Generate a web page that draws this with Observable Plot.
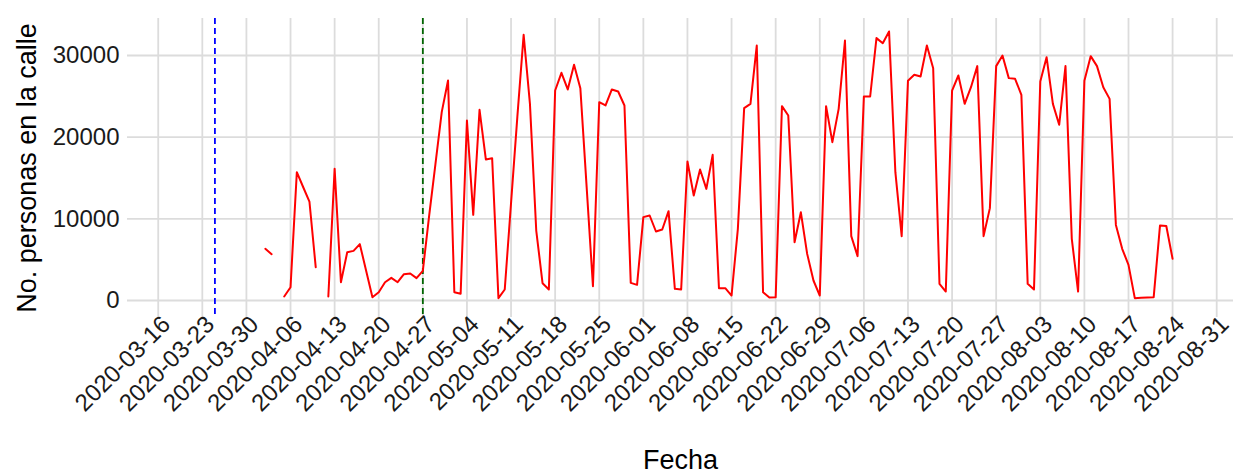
<!DOCTYPE html>
<html>
<head>
<meta charset="utf-8">
<script src="https://cdn.jsdelivr.net/npm/d3@7"></script>
<script src="https://cdn.jsdelivr.net/npm/@observablehq/plot@0.6"></script>
<style>
  html, body { margin: 0; padding: 0; background: #ffffff; }
  #chart { width: 1238px; height: 474px; }
</style>
</head>
<body>
<div id="chart"></div>
<script>
// ---- data ----
const dates = [
  "2020-04-02","2020-04-03","2020-04-04","2020-04-05","2020-04-06","2020-04-07","2020-04-08","2020-04-09","2020-04-10","2020-04-11","2020-04-12",
  "2020-04-13","2020-04-14","2020-04-15","2020-04-16","2020-04-17","2020-04-18","2020-04-19",
  "2020-04-20","2020-04-21","2020-04-22","2020-04-23","2020-04-24","2020-04-25","2020-04-26",
  "2020-04-27","2020-04-28","2020-04-29","2020-04-30","2020-05-01","2020-05-02","2020-05-03",
  "2020-05-04","2020-05-05","2020-05-06","2020-05-07","2020-05-08","2020-05-09","2020-05-10",
  "2020-05-11","2020-05-12","2020-05-13","2020-05-14","2020-05-15","2020-05-16","2020-05-17",
  "2020-05-18","2020-05-19","2020-05-20","2020-05-21","2020-05-22","2020-05-23","2020-05-24",
  "2020-05-25","2020-05-26","2020-05-27","2020-05-28","2020-05-29","2020-05-30","2020-05-31",
  "2020-06-01","2020-06-02","2020-06-03","2020-06-04","2020-06-05","2020-06-06","2020-06-07",
  "2020-06-08","2020-06-09","2020-06-10","2020-06-11","2020-06-12","2020-06-13","2020-06-14",
  "2020-06-15","2020-06-16","2020-06-17","2020-06-18","2020-06-19","2020-06-20","2020-06-21",
  "2020-06-22","2020-06-23","2020-06-24","2020-06-25","2020-06-26","2020-06-27","2020-06-28",
  "2020-06-29","2020-06-30","2020-07-01","2020-07-02","2020-07-03","2020-07-04","2020-07-05",
  "2020-07-06","2020-07-07","2020-07-08","2020-07-09","2020-07-10","2020-07-11","2020-07-12",
  "2020-07-13","2020-07-14","2020-07-15","2020-07-16","2020-07-17","2020-07-18","2020-07-19",
  "2020-07-20","2020-07-21","2020-07-22","2020-07-23","2020-07-24","2020-07-25","2020-07-26",
  "2020-07-27","2020-07-28","2020-07-29","2020-07-30","2020-07-31","2020-08-01","2020-08-02",
  "2020-08-03","2020-08-04","2020-08-05","2020-08-06","2020-08-07","2020-08-08","2020-08-09",
  "2020-08-10","2020-08-11","2020-08-12","2020-08-13","2020-08-14","2020-08-15","2020-08-16",
  "2020-08-17","2020-08-18","2020-08-19","2020-08-20","2020-08-21","2020-08-22","2020-08-23",
  "2020-08-24"
];
const personas = [
  6330, 5670, null, 490, 1630, 15710, 13900, 12120, 4080, null, 490,
  16120, 2240, 5910, 6080, 6900, 3650, 410,
  1020, 2240, 2780, 2240, 3230, 3300, 2740,
  3630, 10370, 16700, 23060, 26940, 1020, 820,
  22040, 10490, 23350, 17270, 17420, 290, 1350,
  11920, 22490, 32530, 24080, 8570, 2120, 1350,
  25710, 27880, 25840, 28860, 26000, 13880, 1760,
  24290, 23880, 25840, 25590, 23880, 2160, 1920,
  10210, 10410, 8450, 8690, 10940, 1430, 1350,
  17020, 12860, 16040, 13670, 17840, 1510, 1510,
  610, 8780, 23550, 24080, 31220, 1020, 370,
  410, 23800, 22650, 7140, 10800, 5710, 2450,
  610, 23800, 19390, 23470, 31840, 7880, 5430,
  24980, 24980, 32130, 31510, 32940, 15710, 7880,
  26900, 27640, 27430, 31220, 28450, 2040, 1100,
  25710, 27550, 24080, 26120, 28700, 7880, 11310,
  28700, 30000, 27230, 27150, 25180, 2040, 1350,
  26820, 29790, 24080, 21510, 28700, 7550, 1100,
  26900, 29920, 28700, 26120, 24690, 9260, 6330,
  4370, 290, 330, 370, 410, 9180, 9120,
  5100
];
const xTickLabels = [
  "2020-03-16","2020-03-23","2020-03-30","2020-04-06","2020-04-13","2020-04-20",
  "2020-04-27","2020-05-04","2020-05-11","2020-05-18","2020-05-25","2020-06-01",
  "2020-06-08","2020-06-15","2020-06-22","2020-06-29","2020-07-06","2020-07-13",
  "2020-07-20","2020-07-27","2020-08-03","2020-08-10","2020-08-17","2020-08-24","2020-08-31"
];
const yTicks = [0, 10000, 20000, 30000];
const eventDates = ["2020-03-25", "2020-04-27"];
const eventColors = ["blue", "darkgreen"];

// ---- build ----
const parse = d3.utcParse("%Y-%m-%d");
const rows = dates.map((d, i) => ({date: parse(d), value: personas[i] == null ? NaN : personas[i]}));
const xTicks = xTickLabels.map(parse);
const events = eventDates.map((d, i) => ({date: parse(d), color: eventColors[i]}));

const xDomain = [new Date(Date.UTC(2020, 2, 11, 3)), new Date(Date.UTC(2020, 8, 2, 16))];

const chart = Plot.plot({
  width: 1238,
  height: 474,
  marginLeft: 127,
  marginRight: 5,
  marginTop: 18,
  marginBottom: 157,
  style: {fontFamily: "'Liberation Sans', Arial, Helvetica, sans-serif", background: "#ffffff", color: "#1a1a1a", overflow: "visible"},
  x: {type: "utc", domain: xDomain},
  y: {domain: [-2080, 34530]},
  marks: [
    Plot.gridX(xTicks, {stroke: "#dcdcdc", strokeOpacity: 1, strokeWidth: 1.8}),
    Plot.gridY(yTicks, {stroke: "#dcdcdc", strokeOpacity: 1, strokeWidth: 1.8}),
    Plot.axisX(xTicks, {tickSize: 0, tickPadding: 3, tickRotate: -45, fontSize: 24, dx: 8,
      tickFormat: (d) => xTickLabels[xTicks.findIndex(t => +t === +d)], label: null}),
    Plot.axisY(yTicks, {tickSize: 0, tickPadding: 8, fontSize: 24, tickFormat: d => String(d), label: null}),
    Plot.ruleX(events, {x: "date", stroke: "color", strokeWidth: 1.8, strokeDasharray: "6,4"}),
    Plot.line(rows, {x: "date", y: "value", stroke: "red", strokeWidth: 2}),
    Plot.text(["Fecha"], {frameAnchor: "bottom", dy: 151, fontSize: 27, fill: "black"}),
    Plot.text(["No. personas en la calle"], {frameAnchor: "left", dx: -100, rotate: -90, textAnchor: "middle", fontSize: 27, fill: "black"})
  ]
});
document.getElementById("chart").appendChild(chart);
</script>
</body>
</html>
